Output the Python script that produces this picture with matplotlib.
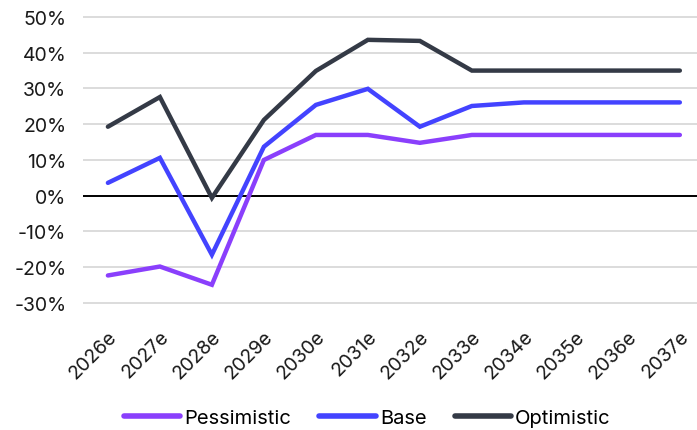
import numpy as np
import matplotlib.pyplot as plt
from matplotlib.ticker import FuncFormatter

plt.rcParams['font.family'] = ['Inter', 'DejaVu Sans']
plt.rcParams['font.size'] = 14

years = ['2026e', '2027e', '2028e', '2029e', '2030e', '2031e',
         '2032e', '2033e', '2034e', '2035e', '2036e', '2037e']
pessimistic = [-22.3, -19.8, -24.9, 10.0, 17.0, 17.0, 14.8, 17.0, 17.0, 17.0, 17.0, 17.0]
base = [3.6, 10.6, -16.5, 13.7, 25.4, 29.9, 19.3, 25.1, 26.1, 26.1, 26.1, 26.1]
optimistic = [19.3, 27.6, -0.6, 21.2, 34.9, 43.6, 43.3, 35.0, 35.0, 35.0, 35.0, 35.0]

series = [('Pessimistic', pessimistic, '#8a3ffc'),
          ('Base', base, '#4343ff'),
          ('Optimistic', optimistic, '#343a46')]

fig = plt.figure(figsize=(6.97, 4.31), dpi=100)
ax = fig.add_axes([0.119, 0.2905, 0.881, 0.672])

x = np.arange(len(years))
for name, vals, col in series:
    ax.plot(x, vals, color=col, lw=3.2, label=name, solid_capstyle='round',
            solid_joinstyle='miter', zorder=3)

ax.set_ylim(-30.5, 50.5)
ax.set_xlim(-0.48, 11.33)
ax.set_yticks(np.arange(-30, 51, 10))
ax.yaxis.set_major_formatter(FuncFormatter(lambda v, p: f'{v:.0f}%'))
ax.grid(axis='y', color='#d9d9d9', lw=1.3, zorder=0)
ax.axhline(0, color='black', lw=1.4, zorder=2)

ax.set_xticks(x)
ax.set_xticklabels(years, rotation=45, ha='right', rotation_mode='anchor')
ax.tick_params(length=0, colors='#1a1a1a', labelsize=14)
ax.tick_params(axis='y', pad=12)
ax.tick_params(axis='x', pad=16)
for s in ax.spines.values():
    s.set_visible(False)

leg = fig.legend(loc='center', bbox_to_anchor=(0.527, 0.028), ncol=3,
                 frameon=False, handlelength=2.8, handletextpad=0.2,
                 columnspacing=1.4, fontsize=14.5)
for h in leg.get_lines():
    h.set_linewidth(4)
    h.set_solid_capstyle('round')

fig.savefig('out.png', dpi=100)
